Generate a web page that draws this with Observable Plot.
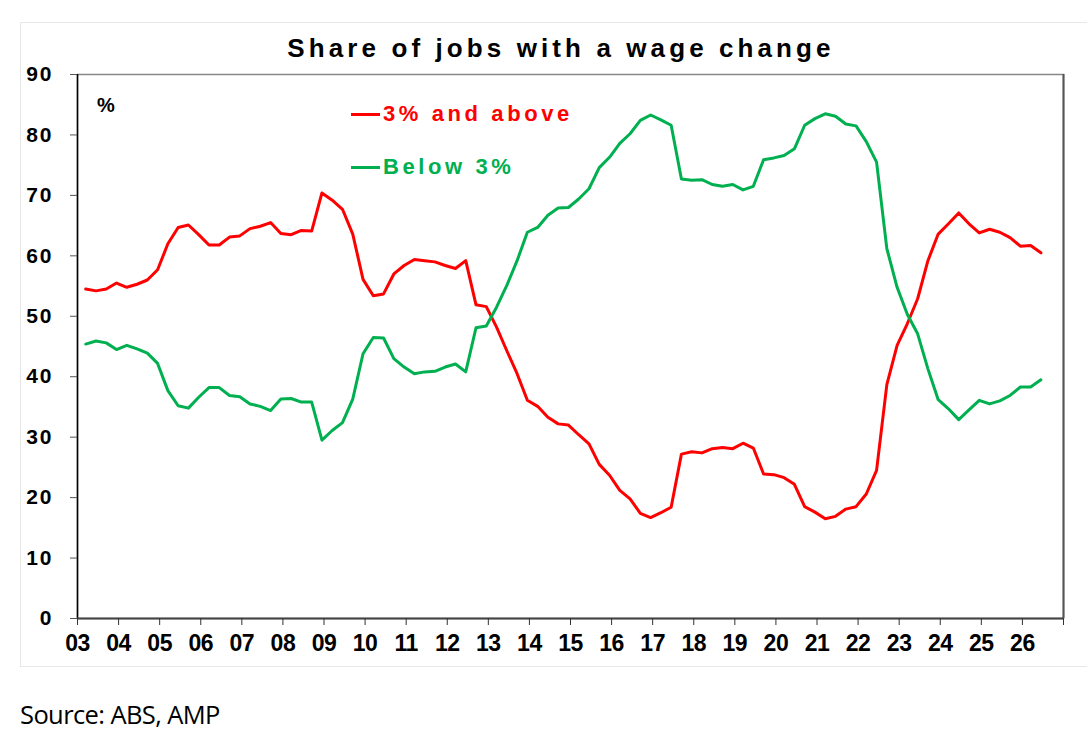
<!DOCTYPE html>
<html>
<head>
<meta charset="utf-8">
<script src="https://cdn.jsdelivr.net/npm/d3@7"></script>
<script src="https://cdn.jsdelivr.net/npm/@observablehq/plot@0.6"></script>
<style>
  html, body { margin: 0; padding: 0; background: #fff; }
  #wrap { position: relative; width: 1087px; height: 739px; overflow: hidden; font-family: "Liberation Sans", Arial, sans-serif; }
  #outer { position: absolute; left: 20px; top: 22px; width: 1090px; height: 643px; border: 1px solid #e8e8e8; }
  #title { position: absolute; top: 35px; left: 561px; transform: translateX(-50%); white-space: nowrap; font-size: 26px; line-height: 26px; font-weight: bold; letter-spacing: 4.1px; color: #000; }
  #chart { position: absolute; top: 60px; left: 0; }
  .leg { position: absolute; left: 351px; white-space: nowrap; font-size: 22px; line-height: 22px; font-weight: bold; letter-spacing: 3.6px; }
  .leg .sw { display: inline-block; width: 29px; height: 3px; vertical-align: middle; margin-right: 3px; position: relative; top: -1px; }
  #pct { position: absolute; left: 97px; top: 95px; font-size: 20px; line-height: 20px; font-weight: bold; }
  #source { position: absolute; left: 20px; top: 701px; font-family: "Open Sans", "Liberation Sans", sans-serif; font-size: 25.5px; line-height: 26px; color: #000; letter-spacing: -0.6px; }
  #chart svg text { font-family: "Liberation Sans", Arial, sans-serif; }
  #chart .yax text { letter-spacing: 2px; }
  #chart .xax text { letter-spacing: -0.5px; }
</style>
</head>
<body>
<div id="wrap">
  <div id="outer"></div>
  <div id="title">Share of jobs with a wage change</div>
  <div id="chart"></div>
  <div id="pct">%</div>
  <div class="leg" id="legRed" style="top:103px;color:#ff0000"><span class="sw" style="background:#ff0000"></span>3% and above</div>
  <div class="leg" id="legGreen" style="top:156px;color:#00b050"><span class="sw" style="background:#00b050"></span>Below 3%</div>
  <div id="source">Source: ABS, AMP</div>
</div>
<script>
// Quarterly observations, first quarter at 2003.2, one every quarter
const firstQuarter = 2003.2;
const quarterStep = 0.25;

const above3 = [
  54.5, 54.2, 54.5, 55.5, 54.8, 55.3, 56.0, 57.7, 62.0, 64.7,
  65.1, 63.5, 61.8, 61.8, 63.1, 63.3, 64.5, 64.9, 65.5, 63.7,
  63.5, 64.2, 64.1, 70.4, 69.2, 67.7, 63.6, 56.1, 53.4, 53.7,
  57.0, 58.4, 59.4, 59.2, 59.0, 58.4, 57.9, 59.2, 51.9, 51.6,
  48.2, 44.3, 40.5, 36.1, 35.1, 33.3, 32.2, 32.0, 30.4, 28.9,
  25.5, 23.7, 21.2, 19.8, 17.4, 16.7, 17.5, 18.4, 27.2, 27.6,
  27.4, 28.1, 28.3, 28.1, 29.0, 28.2, 23.9, 23.8, 23.3, 22.2,
  18.5, 17.6, 16.5, 16.9, 18.1, 18.5, 20.6, 24.5, 38.7, 45.2,
  48.8, 52.9, 59.2, 63.6, 65.3, 67.1, 65.3, 63.8, 64.4, 63.9,
  63.0, 61.6, 61.7, 60.5
];

const below3 = [
  45.4, 45.9, 45.6, 44.5, 45.2, 44.6, 43.9, 42.2, 37.7, 35.2,
  34.8, 36.6, 38.2, 38.2, 36.9, 36.7, 35.5, 35.1, 34.4, 36.3,
  36.4, 35.8, 35.8, 29.5, 31.1, 32.4, 36.3, 43.8, 46.5, 46.4,
  43.0, 41.6, 40.5, 40.8, 40.9, 41.6, 42.1, 40.8, 48.1, 48.4,
  51.5, 55.1, 59.2, 63.9, 64.7, 66.7, 67.9, 68.0, 69.4, 71.1,
  74.6, 76.3, 78.6, 80.2, 82.4, 83.3, 82.5, 81.6, 72.7, 72.5,
  72.6, 71.8, 71.5, 71.8, 70.9, 71.5, 75.9, 76.2, 76.6, 77.7,
  81.6, 82.7, 83.5, 83.1, 81.8, 81.5, 78.9, 75.5, 61.2, 54.8,
  50.3, 47.1, 41.3, 36.2, 34.7, 32.9, 34.5, 36.1, 35.5, 36.0,
  36.9, 38.3, 38.3, 39.5
];

const yearTicks = [2003,2004,2005,2006,2007,2008,2009,2010,2011,2012,2013,2014,2015,2016,2017,2018,2019,2020,2021,2022,2023,2024,2025,2026,2027];
const yearLabels = ["03","04","05","06","07","08","09","10","11","12","13","14","15","16","17","18","19","20","21","22","23","24","25","26",""];
const yTicks = [0,10,20,30,40,50,60,70,80,90];

const redRows = above3.map((v, i) => ({t: firstQuarter + i * quarterStep, v}));
const greenRows = below3.map((v, i) => ({t: firstQuarter + i * quarterStep, v}));

const plot = Plot.plot({
  width: 1087,
  height: 608,
  marginTop: 14,
  marginBottom: 50,
  marginLeft: 77,
  marginRight: 24,
  x: {domain: [2003, 2027]},
  y: {domain: [0, 90]},
  marks: [
    Plot.frame({stroke: "#888", strokeWidth: 1.5}),
    Plot.ruleX([2027], {stroke: "#555", strokeWidth: 2}),
    Plot.ruleX([2003], {stroke: "#000", strokeWidth: 1.5}),
    Plot.line(redRows, {x: "t", y: "v", stroke: "#ff0000", strokeWidth: 3}),
    Plot.line(greenRows, {x: "t", y: "v", stroke: "#00b050", strokeWidth: 3}),
    Plot.ruleY([0], {stroke: "#444", strokeWidth: 2.2}),
    Plot.axisY({
      ticks: yTicks, tickSize: 7, tickPadding: 17, stroke: "#555",
      fontSize: 21, fontWeight: "bold", fill: "#000", label: null,
      className: "yax"
    }),
    Plot.axisX({
      ticks: yearTicks, tickFormat: (d) => yearLabels[yearTicks.indexOf(d)],
      tickSize: 7, tickPadding: 9, stroke: "#333",
      fontSize: 23, fontWeight: "bold", fill: "#000", label: null,
      className: "xax"
    })
  ]
});
document.getElementById("chart").appendChild(plot);
</script>
</body>
</html>
